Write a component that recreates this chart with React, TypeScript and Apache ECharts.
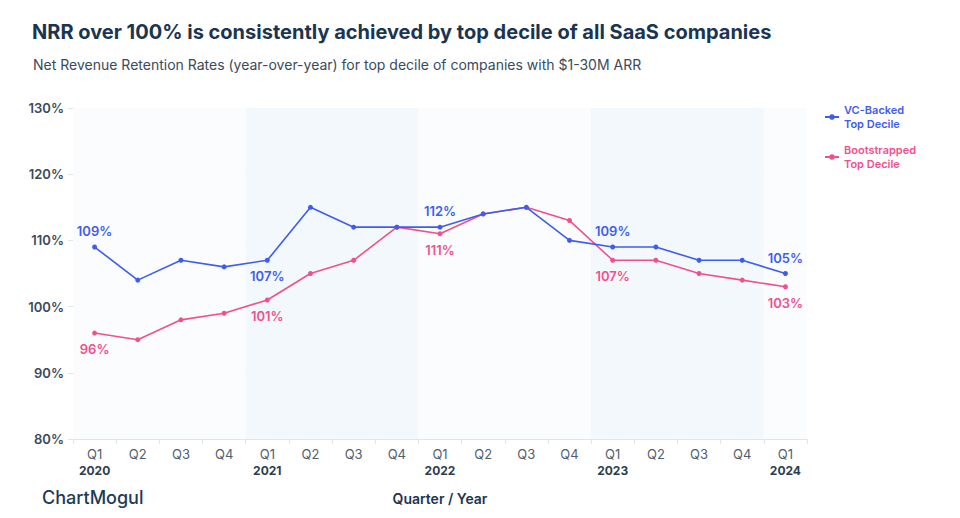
import React, { useEffect, useRef } from "react";
import * as echarts from "echarts";

const quarters = ["Q1","Q2","Q3","Q4","Q1","Q2","Q3","Q4","Q1","Q2","Q3","Q4","Q1","Q2","Q3","Q4","Q1"];
const years = ["2020","2020","2020","2020","2021","2021","2021","2021","2022","2022","2022","2022","2023","2023","2023","2023","2024"];
const vcBacked = [109,104,107,106,107,115,112,112,112,114,115,110,109,109,107,107,105];
const bootstrapped = [96,95,98,99,101,105,107,112,111,114,115,113,107,107,105,104,103];
const labelIdx = [0,4,8,12,16];
const vcLabelPos = ["top","bottom","top","top","top"];
const yearBands = [
  { start: 0, end: 4, shade: false },
  { start: 4, end: 8, shade: true },
  { start: 8, end: 12, shade: false },
  { start: 12, end: 16, shade: true },
  { start: 16, end: 17, shade: false },
];

const BLUE = "#3f5cf2";
const PINK = "#f2508c";
const FONT = "Inter, 'Noto Sans', sans-serif";

export default function App() {
  const ref = useRef<HTMLDivElement>(null);
  useEffect(() => {
    if (!ref.current) return;
    const chart = echarts.init(ref.current, undefined, { renderer: "svg" });
    const cats = quarters.map((q, i) => q + " " + years[i]);
    const mk = (vals: number[], color: string, posFn: (k: number) => string) =>
      vals.map((v, i) => {
        const k = labelIdx.indexOf(i);
        if (k < 0) return v;
        return {
          value: v,
          label: {
            show: true,
            position: posFn(k),
            distance: 7,
            formatter: "{c}%",
            color,
            fontSize: 13,
            fontWeight: 600,
            fontFamily: FONT,
          },
        };
      });
    chart.setOption({
      animation: false,
      textStyle: { fontFamily: FONT },
      title: [
        {
          text: "NRR over 100% is consistently achieved by top decile of all SaaS companies",
          left: 32,
          top: 22,
          padding: 0,
          textStyle: { fontSize: 20, fontWeight: 700, color: "#1b3550", fontFamily: FONT },
        },
        {
          text: "Net Revenue Retention Rates (year-over-year) for top decile of companies with $1-30M ARR",
          left: 33,
          top: 57,
          padding: 0,
          textStyle: { fontSize: 14, fontWeight: 400, color: "#3a4a5c", fontFamily: FONT },
        },
      ],
      legend: {
        orient: "vertical",
        left: 819,
        top: 98,
        itemWidth: 14,
        itemHeight: 7,
        itemGap: 12,
        data: [
          { name: "VC-Backed\nTop Decile", textStyle: { color: BLUE } },
          { name: "Bootstrapped\nTop Decile", textStyle: { color: PINK } },
        ],
        textStyle: { fontSize: 11, fontWeight: 600, lineHeight: 14, fontFamily: FONT },
      },
      grid: { left: 73, right: 153, top: 108, bottom: 79 },
      xAxis: [
        {
          type: "category",
          data: cats,
          boundaryGap: true,
          name: "Quarter / Year",
          nameLocation: "middle",
          nameGap: 52,
          nameTextStyle: { fontSize: 14, fontWeight: 600, color: "#1e3550", fontFamily: FONT },
          axisLine: { lineStyle: { color: "#e2e5e8" } },
          axisTick: { show: true, length: 5, lineStyle: { color: "#e2e5e8" } },
          axisLabel: {
            interval: 0,
            margin: 6,
            formatter: (val: string) => {
              const [q, y] = val.split(" ");
              return q === "Q1" ? `{q|${q}}\n{y|${y}}` : `{q|${q}}`;
            },
            rich: {
              q: { fontSize: 13, color: "#52606e", lineHeight: 17, fontFamily: FONT },
              y: { fontSize: 12, fontWeight: 700, color: "#2b3d50", lineHeight: 17, fontFamily: FONT },
            },
          },
          splitLine: { show: false },
        },
        { type: "value", min: 0, max: 17, show: false },
      ],
      yAxis: {
        type: "value",
        min: 80,
        max: 130,
        interval: 10,
        axisLine: { show: true, lineStyle: { color: "#e2e5e8" } },
        axisTick: { show: true, length: 5, lineStyle: { color: "#e2e5e8" } },
        axisLabel: {
          formatter: "{value}%",
          fontSize: 13,
          fontWeight: 600,
          color: "#3b4a5a",
          margin: 9,
          fontFamily: FONT,
        },
        splitLine: { lineStyle: { color: "#e6e8eb" } },
      },
      series: [
        {
          type: "line",
          xAxisIndex: 1,
          data: [],
          silent: true,
          markArea: {
            silent: true,
            data: yearBands.map((b) => [
              { xAxis: b.start, itemStyle: { color: b.shade ? "#f3f8fc" : "#fafcfd" } },
              { xAxis: b.end },
            ]),
          },
        },
        {
          name: "VC-Backed\nTop Decile",
          type: "line",
          data: mk(vcBacked, BLUE, (k) => vcLabelPos[k]),
          color: BLUE,
          symbol: "circle",
          symbolSize: 5,
          lineStyle: { width: 1.6, color: BLUE },
          itemStyle: { color: BLUE },
          z: 3,
        },
        {
          name: "Bootstrapped\nTop Decile",
          type: "line",
          data: mk(bootstrapped, PINK, () => "bottom"),
          color: PINK,
          symbol: "circle",
          symbolSize: 5,
          lineStyle: { width: 1.6, color: PINK },
          itemStyle: { color: PINK },
          z: 2,
        },
      ],
      graphic: [
        {
          type: "text",
          left: 42,
          top: 488,
          style: { text: "ChartMogul", fontSize: 18, fontWeight: 500, fill: "#1e3a56", fontFamily: FONT },
        },
      ],
    });
    return () => chart.dispose();
  }, []);
  return <div ref={ref} style={{ width: 960, height: 518, position: "absolute", left: 0, top: 0 }} />;
}
